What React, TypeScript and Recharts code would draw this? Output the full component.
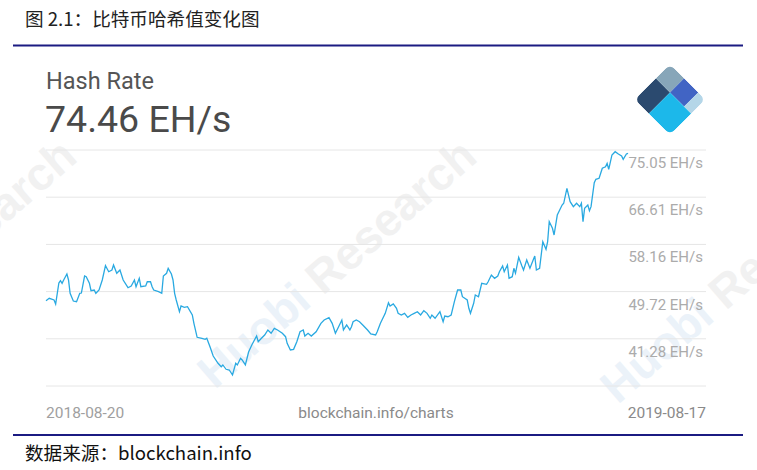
import { LineChart, Line, XAxis, YAxis, CartesianGrid } from 'recharts';

// days since 2018-08-20
const days = [
  0, 2, 5, 6, 8, 9, 10, 11, 13, 14,
  15, 17, 19, 21, 22, 24, 25, 27, 28, 30,
  31, 33, 35, 37, 39, 41, 42, 44, 46, 48,
  51, 53, 55, 56, 58, 59, 62, 63, 65, 66,
  67, 70, 72, 73, 75, 76, 78, 79, 80, 81,
  83, 84, 86, 88, 91, 92, 94, 97, 99, 100,
  102, 104, 107, 109, 110, 112, 114, 116, 118, 119,
  121, 122, 124, 126, 128, 131, 132, 134, 136, 138,
  140, 142, 144, 147, 149, 150, 152, 154, 156, 158,
  160, 161, 163, 165, 168, 171, 173, 176, 178, 180,
  182, 184, 185, 187, 189, 190, 191, 193, 195, 197,
  200, 202, 205, 206, 208, 211, 213, 214, 216, 218,
  219, 221, 223, 225, 227, 229, 231, 233, 235, 237,
  239, 240, 242, 245, 247, 248, 250, 252, 254, 256,
  258, 259, 262, 263, 264, 266, 267, 269, 271, 274,
  275, 277, 279, 281, 282, 284, 285, 287, 288, 290,
  291, 292, 294, 296, 297, 299, 301, 303, 304, 305,
  307, 309, 311, 312, 313, 315, 316, 318, 321, 322,
  324, 326, 328, 330, 332, 333, 334, 335, 337, 338,
  339, 341, 342, 344, 346, 348, 349, 350, 352, 354,
  356, 358, 359, 361, 362,
];

// EH/s
const hashRate = [
  48.10, 48.53, 48.22, 47.51, 51.26, 51.67, 51.21, 51.80, 52.87, 51.80,
  49.42, 48.04, 47.92, 49.42, 49.47, 52.51, 52.39, 51.21, 49.88, 50.01,
  49.42, 50.01, 51.80, 54.36, 53.28, 53.59, 54.48, 53.00, 53.59, 51.80,
  50.42, 50.73, 51.80, 50.60, 52.10, 50.60, 50.73, 51.49, 51.49, 50.60,
  50.01, 49.71, 49.42, 52.51, 53.00, 53.89, 52.87, 51.80, 49.42, 48.22,
  46.13, 47.15, 46.92, 47.02, 45.54, 44.05, 41.55, 41.37, 41.19, 41.37,
  39.87, 38.20, 36.90, 36.29, 36.60, 35.83, 35.70, 34.81, 36.90, 36.60,
  37.79, 37.49, 36.60, 38.92, 40.17, 41.78, 40.76, 41.37, 41.96, 42.86,
  42.27, 43.16, 42.86, 42.27, 41.66, 40.48, 39.28, 39.40, 40.76, 42.55,
  42.86, 41.78, 42.27, 41.78, 42.55, 44.05, 44.64, 45.06, 44.05, 42.27,
  43.45, 44.64, 42.86, 43.75, 42.86, 43.45, 44.34, 44.64, 44.34, 43.75,
  42.86, 42.14, 41.96, 42.55, 44.05, 45.84, 47.74, 47.15, 47.51, 46.74,
  45.84, 45.54, 45.84, 45.13, 45.54, 45.84, 46.13, 45.54, 46.31, 45.84,
  44.95, 45.54, 44.95, 46.13, 44.34, 45.36, 45.23, 45.54, 47.92, 50.01,
  50.01, 48.81, 48.22, 46.74, 45.84, 47.63, 49.12, 48.81, 51.21, 51.03,
  51.49, 52.69, 52.10, 52.51, 53.28, 54.30, 53.28, 54.48, 52.10, 52.39,
  53.89, 53.00, 55.86, 54.30, 53.59, 55.38, 53.89, 55.38, 56.09, 53.59,
  53.89, 58.65, 57.29, 58.65, 62.23, 61.05, 59.85, 63.42, 65.21, 65.52,
  68.20, 65.80, 64.91, 65.52, 64.91, 65.52, 62.23, 64.62, 65.21, 64.19,
  64.91, 69.20, 69.81, 69.99, 71.78, 72.06, 72.67, 71.60, 74.16, 74.75,
  74.33, 73.98, 73.39, 74.33, 74.46,
];

const yTicks = [32.84, 41.28, 49.72, 58.16, 66.61, 75.05];
const dateLabels = ['2018-08-20', '2019-08-17'];

const data = days.map((d, i) => ({ day: d, value: hashRate[i] }));

const ROBOTO = 'Roboto, "Noto Sans", sans-serif';
const CJK = '"Noto Sans CJK SC", "Noto Sans", sans-serif';

// plot area right edge; labels hang just inside it, under their grid line
const PLOT_RIGHT = 706;

function RightTick(props: any) {
  const { y, payload } = props;
  if (payload.value === yTicks[0]) return null;
  return (
    <text x={PLOT_RIGHT - 3} y={y + 18} textAnchor="end" fontSize={15} fill="#ababab" fontFamily={ROBOTO}>
      {payload.value.toFixed(2)} EH/s
    </text>
  );
}

function Watermark({ cx, cy }: { cx: number; cy: number }) {
  return (
    <text
      x={cx}
      y={cy}
      transform={`rotate(-41 ${cx} ${cy})`}
      textAnchor="middle"
      fontSize={46}
      fontWeight="bold"
      fontFamily='"Liberation Sans", Arial, sans-serif'
    >
      <tspan fill="#ebf2f9">Huobi </tspan>
      <tspan fill="#f1f1f1">Research</tspan>
    </text>
  );
}

function Logo() {
  return (
    <g transform="translate(670 99.5) rotate(-45)">
      <defs>
        <clipPath id="logoClip">
          <rect x={-25} y={-25} width={50} height={50} rx={6} />
        </clipPath>
      </defs>
      <g clipPath="url(#logoClip)">
        <rect x={-25} y={-25} width={30} height={20} fill="#2b4a6f" />
        <rect x={5} y={-25} width={20} height={20} fill="#87a6b9" />
        <rect x={5} y={-5} width={20} height={20} fill="#4164c4" />
        <rect x={5} y={15} width={20} height={10} fill="#b4d6e8" />
        <rect x={-25} y={-5} width={30} height={30} fill="#1cb8ea" />
      </g>
    </g>
  );
}

export default function App() {
  return (
    <div style={{ position: 'absolute', left: 0, top: 0, width: 757, height: 470, background: '#fff', overflow: 'hidden' }}>
      <svg width={757} height={470} style={{ position: 'absolute', left: 0, top: 0 }}>
        <Watermark cx={-53} cy={275} />
        <Watermark cx={347} cy={275} />
        <Watermark cx={750} cy={290} />

        <text x={25} y={26} fontSize={18.6} fill="#222" fontFamily={CJK}>图 2.1：比特币哈希值变化图</text>
        <rect x={13} y={44.5} width={730} height={2} fill="#1b1b82" />

        <text x={46} y={89} fontSize={23.5} fill="#555" fontFamily={ROBOTO}>Hash Rate</text>
        <text x={45} y={132} fontSize={37.5} fill="#4a4a4a" fontFamily={ROBOTO}>74.46 EH/s</text>
        <Logo />

        <text x={46} y={418} fontSize={15.5} fill="#a0a0a0" fontFamily={ROBOTO}>{dateLabels[0]}</text>
        <text x={376} y={418} fontSize={15.5} fill="#8a8a8a" textAnchor="middle" fontFamily={ROBOTO}>blockchain.info/charts</text>
        <text x={706} y={418} fontSize={15.5} fill="#8a8a8a" textAnchor="end" fontFamily={ROBOTO}>{dateLabels[1]}</text>

        <rect x={13} y={434} width={730} height={2} fill="#1b1b82" />
        <text x={25} y={460} fontSize={18.6} fill="#111" fontFamily={CJK}>数据来源：blockchain.info</text>
      </svg>

      <div style={{ position: 'absolute', left: 0, top: 0 }}>
        <LineChart width={757} height={470} data={data} margin={{ top: 150, right: 11, bottom: 84, left: 46 }}>
          <CartesianGrid horizontal vertical={false} stroke="#e6e6e6" />
          <XAxis dataKey="day" type="number" domain={[0, 410.5]} hide />
          <YAxis
            orientation="right"
            domain={[yTicks[0], yTicks[yTicks.length - 1]]}
            ticks={yTicks}
            width={40}
            axisLine={false}
            tickLine={false}
            tick={(p: any) => <RightTick {...p} />}
            interval={0}
          />
          <Line
            type="linear"
            dataKey="value"
            stroke="#29a9e1"
            strokeWidth={1.3}
            dot={false}
            isAnimationActive={false}
          />
        </LineChart>
      </div>
    </div>
  );
}
